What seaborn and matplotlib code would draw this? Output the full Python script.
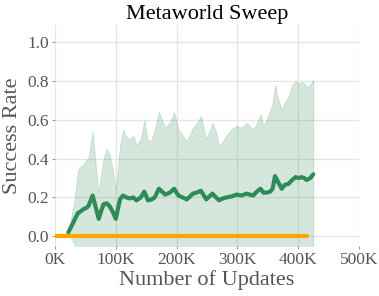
import numpy as np
import pandas as pd
import matplotlib
matplotlib.use("Agg")
import matplotlib.pyplot as plt
import seaborn as sns

# updates (in thousands) for the green run
steps_k = [22, 30, 33, 38, 43, 47, 51, 55, 62, 67, 72, 76, 80, 85, 90, 96, 100,
           107, 112, 118, 123, 129, 134, 141, 147, 153, 159, 164, 171, 178, 181,
           189, 196, 203, 210, 217, 227, 233, 240, 249, 259, 265, 270, 276, 282,
           290, 299, 307, 315, 326, 332, 338, 343, 348, 354, 358, 362, 367, 373,
           378, 384, 390, 396, 401, 406, 410, 414, 420, 425]
mean_rate = [0.02, 0.07, 0.09, 0.12, 0.13, 0.14, 0.145, 0.155, 0.21, 0.15, 0.09,
             0.13, 0.165, 0.17, 0.155, 0.12, 0.09, 0.19, 0.21, 0.2, 0.195, 0.2,
             0.185, 0.2, 0.23, 0.185, 0.19, 0.2, 0.245, 0.225, 0.215, 0.225, 0.245,
             0.21, 0.2, 0.19, 0.22, 0.225, 0.235, 0.19, 0.22, 0.2, 0.185, 0.195,
             0.2, 0.205, 0.215, 0.21, 0.22, 0.21, 0.23, 0.245, 0.225, 0.225, 0.23,
             0.245, 0.31, 0.28, 0.245, 0.265, 0.27, 0.29, 0.305, 0.3, 0.305, 0.3,
             0.29, 0.3, 0.32]
upper_rate = [0.02, 0.15, 0.21, 0.345, 0.36, 0.37, 0.39, 0.405, 0.54, 0.37, 0.225,
              0.33, 0.40, 0.45, 0.42, 0.33, 0.24, 0.465, 0.55, 0.51, 0.50, 0.52,
              0.47, 0.50, 0.60, 0.49, 0.50, 0.55, 0.645, 0.585, 0.56, 0.585, 0.64,
              0.55, 0.52, 0.49, 0.56, 0.58, 0.62, 0.50, 0.585, 0.54, 0.465, 0.49,
              0.52, 0.55, 0.57, 0.56, 0.585, 0.55, 0.58, 0.63, 0.57, 0.60, 0.65,
              0.69, 0.78, 0.71, 0.65, 0.69, 0.72, 0.78, 0.80, 0.79, 0.795, 0.79,
              0.77, 0.78, 0.81]
lower_rate = [0.02, -0.03, -0.05, -0.08, -0.1, -0.1, -0.1, -0.1, -0.12, -0.07,
              -0.05, -0.07, -0.08, -0.1, -0.1, -0.08, -0.06, -0.09, -0.12, -0.11,
              -0.11, -0.12, -0.1, -0.1, -0.14, -0.12, -0.12, -0.15, -0.15, -0.13,
              -0.13, -0.13, -0.15, -0.13, -0.12, -0.11, -0.12, -0.13, -0.15, -0.12,
              -0.14, -0.14, -0.1, -0.1, -0.12, -0.14, -0.14, -0.14, -0.14, -0.13,
              -0.12, -0.14, -0.12, -0.15, -0.19, -0.2, -0.16, -0.15, -0.16, -0.17,
              -0.18, -0.2, -0.19, -0.19, -0.18, -0.19, -0.19, -0.18, -0.17]

# orange run stays at zero
orange_steps_k = [0, 415]
orange_rate = [0.0, 0.0]

sns.set_theme(style="whitegrid")
plt.rcParams['font.family'] = ['Liberation Serif', 'DejaVu Serif']

text_col = '#555555'
green = '#2e8b57'

df = pd.DataFrame({'Updates': np.array(steps_k) * 1000, 'Success Rate': mean_rate})
df_o = pd.DataFrame({'Updates': np.array(orange_steps_k) * 1000, 'Success Rate': orange_rate})

fig = plt.figure(figsize=(3.79, 2.96), dpi=100)
ax = fig.add_axes([0.145, 0.169, 0.802, 0.747])

ax.fill_between(df['Updates'], lower_rate, upper_rate, color=green, alpha=0.2, lw=0.6)
sns.lineplot(data=df, x='Updates', y='Success Rate', color=green, lw=3, ax=ax)
sns.lineplot(data=df_o, x='Updates', y='Success Rate', color='orange', lw=3, ax=ax)

ax.set_xlim(0, 500000)
ax.set_ylim(-0.05, 1.09)
ax.set_xticks([0, 100000, 200000, 300000, 400000, 500000])
ax.set_xticklabels(['0K', '100K', '200K', '300K', '400K', '500K'])
ax.set_yticks([0.0, 0.2, 0.4, 0.6, 0.8, 1.0])
ax.set_yticklabels(['0.0', '0.2', '0.4', '0.6', '0.8', '1.0'])

for s in ax.spines.values():
    s.set_visible(False)
ax.grid(True, color='#e6e6e6', lw=1)
ax.tick_params(axis='both', length=2.5, width=0.8, color='#999999', labelsize=12.5,
               labelcolor=text_col, pad=2, left=True, bottom=True)

ax.set_title('Metaworld Sweep', fontsize=16, color='black', pad=4)
ax.set_xlabel('Number of Updates', fontsize=16, color=text_col, labelpad=1)
ax.set_ylabel('Success Rate', fontsize=16, color=text_col, labelpad=4)

fig.savefig('out.png', dpi=100)
